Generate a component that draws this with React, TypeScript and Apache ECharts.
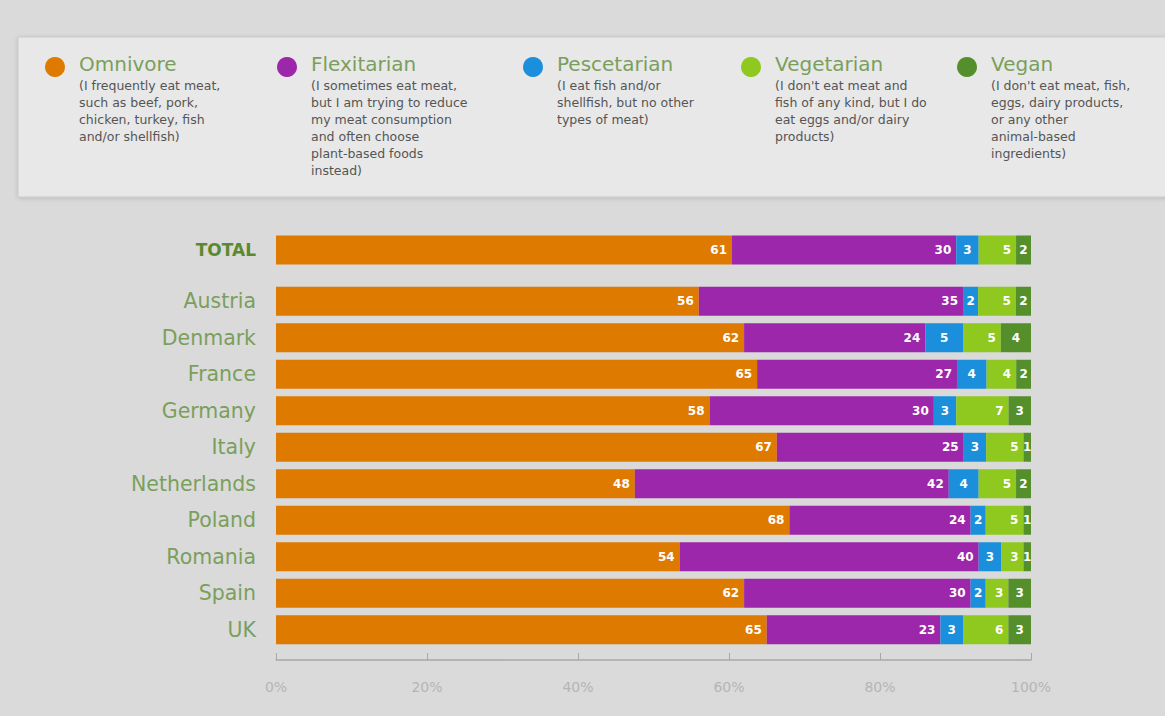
import React, { useEffect, useRef } from "react";
import * as echarts from "echarts";

const countries = ["Austria", "Denmark", "France", "Germany", "Italy", "Netherlands", "Poland", "Romania", "Spain", "UK"];
const totalLabel = ["TOTAL"];

const seriesNames = ["Omnivore", "Flexitarian", "Pescetarian", "Vegetarian", "Vegan"];
const seriesDescriptions = [
  ["(I frequently eat meat,", "such as beef, pork,", "chicken, turkey, fish", "and/or shellfish)"],
  ["(I sometimes eat meat,", "but I am trying to reduce", "my meat consumption", "and often choose", "plant-based foods", "instead)"],
  ["(I eat fish and/or", "shellfish, but no other", "types of meat)"],
  ["(I don't eat meat and", "fish of any kind, but I do", "eat eggs and/or dairy", "products)"],
  ["(I don't eat meat, fish,", "eggs, dairy products,", "or any other", "animal-based", "ingredients)"],
];

const omnivore = [56, 62, 65, 58, 67, 48, 68, 54, 62, 65];
const flexitarian = [35, 24, 27, 30, 25, 42, 24, 40, 30, 23];
const pescetarian = [2, 5, 4, 3, 3, 4, 2, 3, 2, 3];
const vegetarian = [5, 5, 4, 7, 5, 5, 5, 3, 3, 6];
const vegan = [2, 4, 2, 3, 1, 2, 1, 1, 3, 3];

const totalOmnivore = [61];
const totalFlexitarian = [30];
const totalPescetarian = [3];
const totalVegetarian = [5];
const totalVegan = [2];

const xTicks = [0, 20, 40, 60, 80, 100];

const colors = ["#df7a00", "#9c27aa", "#1b8fdb", "#8fc81e", "#558f2b"];

export default function App() {
  const ref = useRef<HTMLDivElement>(null);
  useEffect(() => {
    if (!ref.current) return;
    const chart = echarts.init(ref.current, null, { renderer: "svg" });
    const countrySets = [omnivore, flexitarian, pescetarian, vegetarian, vegan];
    const totalSets = [totalOmnivore, totalFlexitarian, totalPescetarian, totalVegetarian, totalVegan];
    const norm = (sets: number[][]) =>
      sets.map((arr) =>
        arr.map((v, i) => {
          const sum = sets.reduce((s, a) => s + a[i], 0);
          return { value: (v * 100) / sum, raw: v };
        })
      );
    const cData = norm(countrySets);
    const tData = norm(totalSets);
    const font = "'DejaVu Sans', sans-serif";
    const mkLabel = (si: number) => ({
      show: true,
      position: si >= 2 && si !== 3 ? "inside" : "insideRight",
      distance: 5,
      color: "#ffffff",
      fontWeight: "bold",
      fontSize: 12,
      fontFamily: font,
      formatter: (p: any) => String(p.data.raw),
    });
    const series: any[] = [];
    seriesNames.forEach((name, si) => {
      series.push({
        type: "bar",
        name,
        stack: "t",
        xAxisIndex: 0,
        yAxisIndex: 0,
        barWidth: 29,
        itemStyle: { color: colors[si] },
        label: mkLabel(si),
        data: tData[si],
      });
      series.push({
        type: "bar",
        name,
        stack: "c",
        xAxisIndex: 1,
        yAxisIndex: 1,
        barWidth: 29,
        itemStyle: { color: colors[si] },
        label: mkLabel(si),
        data: cData[si],
      });
    });

    const legendX = [55, 287, 533, 751, 967];
    const graphics: any[] = [
      {
        type: "rect",
        shape: { x: 18, y: 37, width: 1160, height: 160 },
        style: { fill: "#e8e8e8", stroke: "#c9c9c9", lineWidth: 1, shadowBlur: 4, shadowColor: "rgba(0,0,0,0.15)", shadowOffsetY: 1 },
        z: 0,
      },
    ];
    seriesNames.forEach((name, i) => {
      graphics.push({
        type: "circle",
        shape: { cx: legendX[i], cy: 67, r: 10 },
        style: { fill: colors[i] },
        z: 1,
      });
      graphics.push({
        type: "text",
        x: legendX[i] + 24,
        y: 54,
        style: { text: name, fill: "#7a9f5c", font: `20px ${font}` },
        z: 1,
      });
      graphics.push({
        type: "text",
        x: legendX[i] + 24,
        y: 77,
        style: {
          text: seriesDescriptions[i].join("\n"),
          fill: "#555555",
          font: `12.5px ${font}`,
          lineHeight: 17,
        },
        z: 1,
      });
    });

    chart.setOption({
      animation: false,
      backgroundColor: "#dadada",
      graphic: graphics,
      grid: [
        { left: 276, right: 134, top: 232, height: 36 },
        { left: 276, right: 134, top: 283, bottom: 68 },
      ],
      xAxis: [
        { gridIndex: 0, type: "value", min: 0, max: 100, interval: 20, show: false },
        {
          gridIndex: 1,
          type: "value",
          min: 0,
          max: 100,
          interval: 20,
          offset: 12,
          splitLine: { show: false },
          axisLine: { show: true, lineStyle: { color: "#a8a8a8", width: 1.5 } },
          axisTick: { show: true, inside: true, length: 7, lineStyle: { color: "#a8a8a8" } },
          axisLabel: { formatter: (v: number) => (xTicks.includes(v) ? v + "%" : ""), color: "#b5b5b5", fontSize: 14, margin: 20, fontFamily: font },
        },
      ],
      yAxis: [
        {
          gridIndex: 0,
          type: "category",
          data: totalLabel,
          inverse: true,
          axisLine: { show: false },
          axisTick: { show: false },
          axisLabel: { color: "#5b8a2e", fontWeight: "bold", fontSize: 17, margin: 20, fontFamily: font },
        },
        {
          gridIndex: 1,
          type: "category",
          data: countries,
          inverse: true,
          axisLine: { show: false },
          axisTick: { show: false },
          axisLabel: { color: "#7a9f5c", fontSize: 20.5, margin: 20, fontFamily: font },
        },
      ],
      series,
    });
    return () => chart.dispose();
  }, []);
  return <div ref={ref} style={{ position: "fixed", left: 0, top: 0, width: 1165, height: 716 }} />;
}
